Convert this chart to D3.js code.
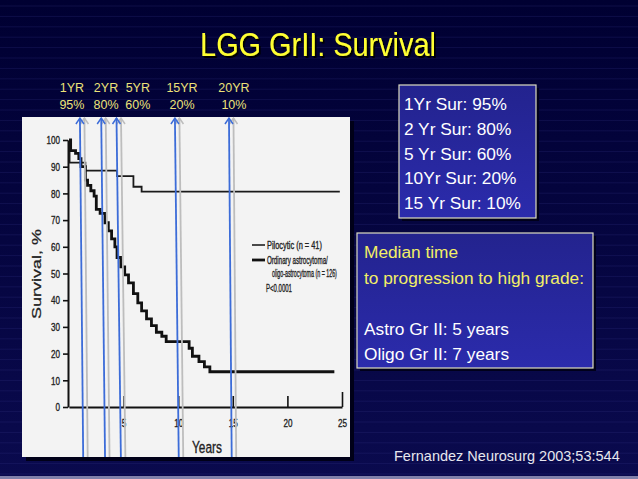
<!DOCTYPE html>
<meta charset="utf-8">
<script src="https://d3js.org/d3.v7.min.js"></script>
<style>
body { margin: 0; background: #000030; }
svg { display: block; }
.box text { font: 17.3px "Liberation Sans", Arial, sans-serif; }
.scan text { font-family: "Liberation Sans", Arial, sans-serif; fill: #222; stroke: #222; stroke-width: 0.35px; }
.axis path, .axis line { stroke: #111; }
.axis text { font-size: 11.6px; }
</style>
<body>
<script>

var W = 638, H = 479;

// survival curves (years, %)
var pilocytic = [
  [0, 100], [0.05, 91.5], [1.5, 88.5], [4.4, 86.5], [5.9, 82.5], [6.65, 80.7], [24.8, 80.7]
];
var ordinary = [
  [0, 100], [0.15, 96], [0.6, 95], [0.9, 93], [1.1, 90], [1.5, 85], [1.7, 83], [2.0, 81],
  [2.3, 79], [2.5, 74], [2.85, 72.5], [3.3, 69], [3.6, 66], [3.9, 63], [4.2, 60], [4.4, 56],
  [4.75, 52.5], [5.1, 49.5], [5.45, 46.5], [5.9, 42.5], [6.3, 39], [6.65, 36], [7.1, 33],
  [7.55, 30.5], [8.0, 28], [8.5, 26.5], [8.9, 24.5], [11.0, 22], [11.3, 19], [11.9, 17],
  [12.4, 15], [12.9, 13.2], [24.3, 13.2]
];
var yTicks = [0, 10, 20, 30, 40, 50, 60, 70, 80, 90, 100];
var xTicks = [5, 10, 15, 20, 25];

// annotation arrows drawn on the slide (position on the year axis, top / bottom)
var arrowTop = [1.0, 2.95, 4.35, 9.7, 14.65];
var arrowBottom = [1.3, 3.3, 4.75, 10.05, 14.9];
var arrowLabelPos = [0.27, 3.39, 6.3, 10.35, 15.1];
var arrowYears = ["1YR", "2YR", "5YR", "15YR", "20YR"];
var arrowPct = ["95%", "80%", "60%", "20%", "10%"];

var survivalLines = ["1Yr Sur: 95%", "2 Yr Sur: 80%", "5 Yr Sur: 60%", "10Yr Sur: 20%", "15 Yr Sur: 10%"];
var medianLines = ["Median time", "to progression to high grade:", "", "Astro Gr II: 5 years", "Oligo Gr II: 7 years"];
var medianColors = ["#f2ee66", "#f2ee66", "#fff", "#fff", "#fff"];

var svg = d3.select("body").append("svg")
  .attr("width", W)
  .attr("height", H);

var defs = svg.append("defs");
var bg = defs.append("linearGradient").attr("id", "bg").attr("x1", 0).attr("y1", 0).attr("x2", 0).attr("y2", 1);
bg.append("stop").attr("offset", 0).attr("stop-color", "#000032");
bg.append("stop").attr("offset", 1).attr("stop-color", "#0a0a4e");
var bx = defs.append("linearGradient").attr("id", "bx").attr("x1", 0).attr("y1", 0).attr("x2", 0).attr("y2", 1);
bx.append("stop").attr("offset", 0).attr("stop-color", "#23238e");
bx.append("stop").attr("offset", 1).attr("stop-color", "#2b2bac");
defs.append("filter").attr("id", "shadow")
  .append("feDropShadow").attr("dx", 2).attr("dy", 2).attr("stdDeviation", 0.6)
  .attr("flood-color", "#000").attr("flood-opacity", 1);

svg.append("rect").attr("width", W).attr("height", H).attr("fill", "url(#bg)");

// faint horizontal stripes of the slide template
svg.append("g").selectAll("line")
  .data(d3.range(6, 476, 10.4))
  .enter().append("line")
  .attr("x1", 0).attr("x2", W)
  .attr("y1", function(d) { return d; }).attr("y2", function(d) { return d; })
  .attr("stroke", "#3a3a8a").attr("stroke-opacity", 0.35).attr("stroke-width", 0.7);

svg.append("rect").attr("x", 0).attr("y", 476).attr("width", W).attr("height", 3).attr("fill", "#8080aa");

// squeeze a text horizontally so it spans len px (the scan is narrower than real type)
function squeeze(sel, x0, y0, len) {
  var w = sel.node().getComputedTextLength();
  sel.attr("transform", "translate(" + x0 + "," + y0 + ") scale(" + (len / w) + ",1)");
}

// title
var title = svg.append("text")
  .attr("text-anchor", "middle")
  .style("font", "34px 'Liberation Sans', Arial, sans-serif")
  .attr("fill", "#ffff33")
  .attr("filter", "url(#shadow)")
  .text("LGG GrII: Survival");
squeeze(title, 318, 56, 236);

// scanned plot panel
svg.append("rect").attr("x", 26).attr("y", 121).attr("width", 328).attr("height", 340).attr("fill", "#000018");
svg.append("rect").attr("x", 22).attr("y", 117).attr("width", 328).attr("height", 340).attr("fill", "#f3f3f3");

var x = d3.scaleLinear().domain([0, 25]).range([69, 342]);
var y = d3.scaleLinear().domain([0, 100]).range([407, 140]);

var scan = svg.append("g").attr("class", "scan");

var yAxis = d3.axisLeft(y).tickValues(yTicks).tickSizeInner(5).tickSizeOuter(0).tickPadding(6.4);
var gy = scan.append("g").attr("class", "axis").attr("transform", "translate(68,0)").call(yAxis);
gy.select(".domain").attr("stroke-width", 2);
gy.selectAll("line").attr("stroke-width", 1.6);
gy.selectAll("text").attr("transform", "scale(0.7,1)");

var xAxis = d3.axisBottom(x).tickValues(xTicks).tickSizeInner(-11).tickSizeOuter(0).tickPadding(12);
var gx = scan.append("g").attr("class", "axis").attr("transform", "translate(0,407)").call(xAxis);
gx.select(".domain").attr("stroke-width", 2);
gx.selectAll("line").attr("stroke-width", 1.6)
  .attr("y2", function(d) { return d === 25 ? -15 : -11; });
gx.selectAll("text").attr("transform", "scale(0.7,1)");

scan.append("text")
  .attr("transform", "translate(41,274) scale(0.7,1) rotate(-90)")
  .attr("text-anchor", "middle")
  .style("font-size", "18px")
  .text("Survival, %");

scan.append("text")
  .attr("transform", "translate(207,453) scale(0.7,1)")
  .attr("text-anchor", "middle")
  .style("font-size", "17px")
  .text("Years");

var line = d3.line()
  .x(function(d) { return x(d[0]); })
  .y(function(d) { return y(d[1]); })
  .curve(d3.curveStepAfter);

scan.append("path").attr("d", line(pilocytic))
  .attr("fill", "none").attr("stroke", "#1a1a1a").attr("stroke-width", 1.8);
scan.append("path").attr("d", line(ordinary))
  .attr("fill", "none").attr("stroke", "#111").attr("stroke-width", 2.8);

// legend of the scanned plot
var legend = [
  {t: "Pilocytic (n = 41)", x: 267, y: 248.5, len: 55, w: 1.5},
  {t: "Ordinary astrocytoma/", x: 267, y: 263.5, len: 61, w: 2.8},
  {t: "oligo-astrocytoma (n = 126)", x: 272, y: 276.5, len: 65},
  {t: "P<0.0001", x: 266, y: 292, len: 26}
];
legend.forEach(function(d) {
  if (d.w) {
    scan.append("line")
      .attr("x1", 252).attr("x2", 265)
      .attr("y1", d.y - 3.5).attr("y2", d.y - 3.5)
      .attr("stroke", "#111").attr("stroke-width", d.w);
  }
  var t = scan.append("text")
    .style("font-size", "11px")
    .text(d.t);
  squeeze(t, d.x, d.y, d.len);
});

// arrows: gray shadow first, then blue
var yTopPx = 118, yBotPx = 457;
function drawArrows(dx, color) {
  var g = svg.append("g");
  arrowTop.forEach(function(t, i) {
    var xt = x(t) + dx, xb = x(arrowBottom[i]) + dx;
    g.append("line")
      .attr("x1", xt).attr("y1", yTopPx)
      .attr("x2", xb).attr("y2", yBotPx)
      .attr("stroke", color).attr("stroke-width", 1.8);
    g.append("path")
      .attr("d", "M" + (xt - 4) + "," + (yTopPx + 6) + "L" + xt + "," + yTopPx + "L" + (xt + 4) + "," + (yTopPx + 6))
      .attr("fill", "none").attr("stroke", color).attr("stroke-width", 1.5);
  });
}
drawArrows(4.5, "#bdbdbd");
drawArrows(0, "#3c6cd8");

var lab = svg.append("g")
  .style("font", "12.5px 'Liberation Sans', Arial, sans-serif")
  .attr("fill", "#ece27a")
  .attr("text-anchor", "middle");
arrowLabelPos.forEach(function(p, i) {
  lab.append("text").attr("x", x(p)).attr("y", 92).text(arrowYears[i]);
  lab.append("text").attr("x", x(p)).attr("y", 109).text(arrowPct[i]);
});

// text boxes
function textBox(bx0, by0, bw, bh, lines, colors, tx, ty0, step) {
  var g = svg.append("g").attr("class", "box");
  g.append("rect").attr("x", bx0 + 3).attr("y", by0 + 3).attr("width", bw).attr("height", bh).attr("fill", "#00001a");
  g.append("rect").attr("x", bx0).attr("y", by0).attr("width", bw).attr("height", bh)
    .attr("fill", "url(#bx)").attr("stroke", "#dcdcc0").attr("stroke-width", 1.2);
  lines.forEach(function(d, i) {
    if (!d) return;
    g.append("text")
      .attr("x", tx)
      .attr("y", ty0 + i * step)
      .attr("fill", colors ? colors[i] : "#fff")
      .text(d);
  });
}
textBox(399, 85, 137, 133, survivalLines, null, 404, 110, 24.8);
textBox(357, 233, 236, 135, medianLines, medianColors, 364, 258, 25.5);

svg.append("text")
  .attr("x", 394).attr("y", 461)
  .style("font", "14.5px 'Liberation Sans', Arial, sans-serif")
  .attr("fill", "#e6e6ee")
  .text("Fernandez Neurosurg 2003;53:544");

</script>
</body>
